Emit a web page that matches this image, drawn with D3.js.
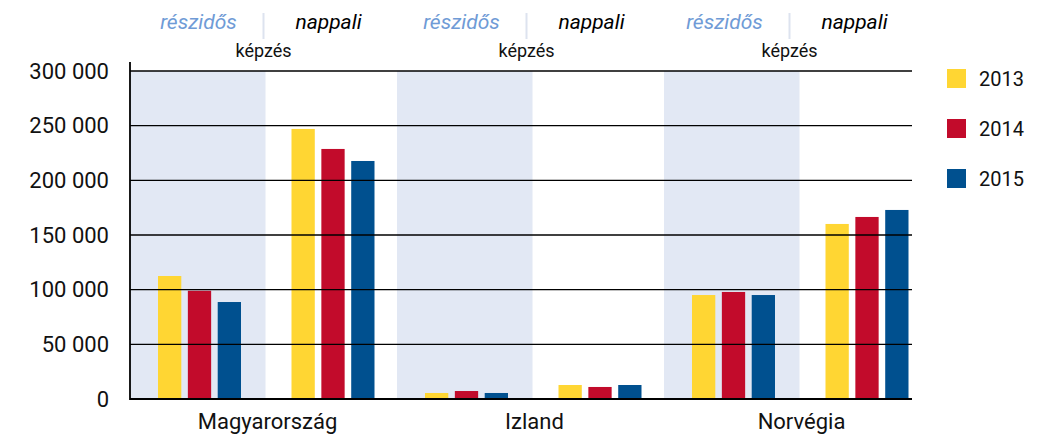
<!DOCTYPE html>
<html>
<head>
<meta charset="utf-8">
<script src="https://cdn.jsdelivr.net/npm/d3@7"></script>
<style>
  body { margin: 0; background: #fff; }
  text { font-family: Roboto, "Noto Sans", sans-serif; fill: #111; }
</style>
</head>
<body>
<div id="chart"></div>
<script>
// data
var countries = ["Magyarország", "Izland", "Norvégia"];
var types = ["részidős", "nappali"];
var years = ["2013", "2014", "2015"];
var colors = ["#ffd633", "#c20b2b", "#00508f"];
var yTicks = [0, 50000, 100000, 150000, 200000, 250000, 300000];

// values per country, per type, per year
var magyar = [[112500, 99000, 88700], [247000, 228700, 217700]];
var izland = [[5500, 7300, 5500], [12800, 11000, 12800]];
var norvegia = [[95100, 97900, 95100], [160100, 166500, 172900]];
var values = [magyar, izland, norvegia];

var width = 1046, height = 436;
var plotLeft = 130, plotRight = 912, plotTop = 71, plotBottom = 399;

var svg = d3.select("#chart").append("svg")
  .attr("width", width)
  .attr("height", height);

/* slots: one for every country x type */
var slots = [];
countries.forEach(function(c) {
  types.forEach(function(t) { slots.push(c + "|" + t); });
});

var x = d3.scaleBand().domain(slots).range([plotLeft, plotLeft + 133.5 * 6]);
var xInner = d3.scaleBand().domain(years)
  .range([28, 28 + 83]).paddingInner(0.22).paddingOuter(0);

var y = d3.scaleLinear().domain([0, 300000]).range([plotBottom, plotTop]);

/* shaded background for részidős */
svg.append("g").selectAll("rect")
  .data(countries)
  .enter().append("rect")
  .attr("x", function(c) { return x(c + "|részidős"); })
  .attr("y", plotTop)
  .attr("width", x.bandwidth() + 2)
  .attr("height", plotBottom - plotTop)
  .attr("fill", "#e2e8f4");

/* bars */
var bars = [];
countries.forEach(function(c, ci) {
  types.forEach(function(t, ti) {
    years.forEach(function(yr, yi) {
      bars.push({slot: c + "|" + t, year: yr, yi: yi, v: values[ci][ti][yi]});
    });
  });
});

svg.append("g").selectAll("rect")
  .data(bars)
  .enter().append("rect")
  .attr("x", function(d) { return x(d.slot) + xInner(d.year); })
  .attr("y", function(d) { return y(d.v); })
  .attr("width", xInner.bandwidth())
  .attr("height", function(d) { return y(0) - y(d.v); })
  .attr("fill", function(d) { return colors[d.yi]; });

/* gridlines on top of bars */
svg.append("g").selectAll("line")
  .data(yTicks.filter(function(t) { return t > 0; }))
  .enter().append("line")
  .attr("x1", plotLeft).attr("x2", plotRight)
  .attr("y1", function(t) { return y(t); })
  .attr("y2", function(t) { return y(t); })
  .attr("stroke", "#000")
  .attr("stroke-width", 1.3);

// axes
svg.append("line")
  .attr("x1", plotLeft).attr("x2", plotRight)
  .attr("y1", y(0)).attr("y2", y(0))
  .attr("stroke", "#000").attr("stroke-width", 2.2);
svg.append("line")
  .attr("x1", plotLeft).attr("x2", plotLeft)
  .attr("y1", plotTop - 9).attr("y2", y(0) + 1)
  .attr("stroke", "#000").attr("stroke-width", 1.8);

var fmt = function(v) { return d3.format(",")(v).replace(/,/g, " "); };

svg.append("g").selectAll("text")
  .data(yTicks)
  .enter().append("text")
  .attr("x", 109)
  .attr("y", function(t) { return y(t); })
  .attr("dy", "0.35em")
  .attr("text-anchor", "end")
  .style("font-size", "22px")
  .text(fmt);

/* country labels */
svg.append("g").selectAll("text")
  .data(countries)
  .enter().append("text")
  .attr("x", function(c) { return x(c + "|nappali") + 4; })
  .attr("y", 429)
  .attr("text-anchor", "middle")
  .style("font-size", "22px")
  .text(function(c) { return c; });

/* header over each country */
var head = svg.append("g").selectAll("g")
  .data(countries)
  .enter().append("g")
  .attr("transform", function(c, i) { return "translate(" + (x(c + "|nappali") - i * 4) + ",0)"; });

head.append("line")
  .attr("x1", 0).attr("x2", 0)
  .attr("y1", 13).attr("y2", 39)
  .attr("stroke", "#dde3ef").attr("stroke-width", 2);
head.append("text")
  .attr("x", -65).attr("y", 29)
  .attr("text-anchor", "middle")
  .style("font-size", "21px").style("font-style", "italic")
  .style("fill", "#6f9bd6")
  .text(types[0]);
head.append("text")
  .attr("x", 65).attr("y", 29)
  .attr("text-anchor", "middle")
  .style("font-size", "21px").style("font-style", "italic")
  .style("fill", "#000")
  .text(types[1]);
head.append("text")
  .attr("x", 0).attr("y", 57)
  .attr("text-anchor", "middle")
  .style("font-size", "18px")
  .text("képzés");

/* legend */
var legend = svg.append("g").selectAll("g")
  .data(years)
  .enter().append("g")
  .attr("transform", function(d, i) { return "translate(947," + (69 + i * 50) + ")"; });
legend.append("rect")
  .attr("width", 19).attr("height", 19)
  .attr("fill", function(d, i) { return colors[i]; });
legend.append("text")
  .attr("x", 32).attr("y", 10)
  .attr("dy", "0.35em")
  .style("font-size", "20px")
  .text(function(d) { return d; });
</script>
</body>
</html>
